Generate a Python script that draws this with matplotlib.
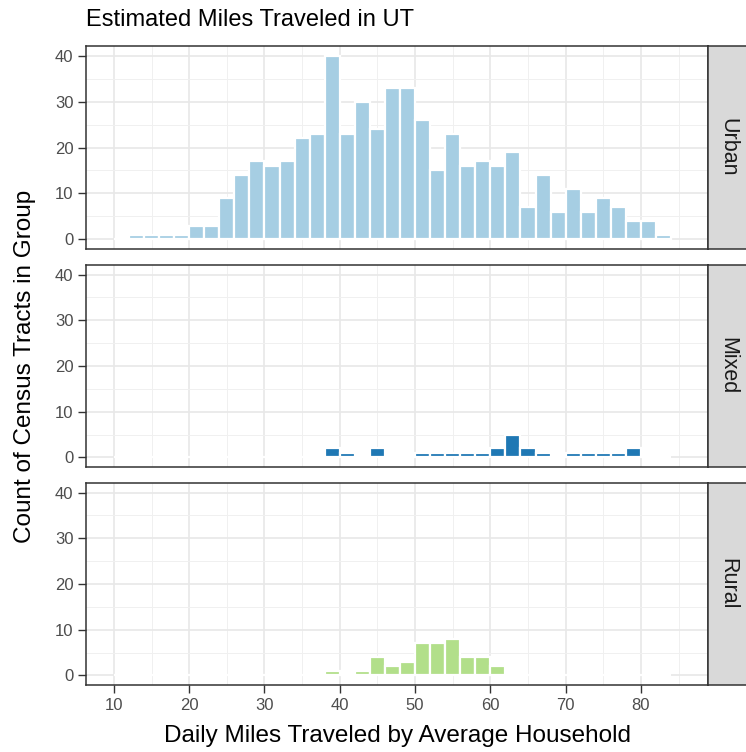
import matplotlib
matplotlib.use("Agg")
import matplotlib.pyplot as plt

plt.rcParams["font.family"] = ["Liberation Sans", "DejaVu Sans"]

# histogram bins, 2 miles wide, from 10 to 84
bin_left = [10, 12, 14, 16, 18, 20, 22, 24, 26, 28, 30, 32, 34, 36, 38, 40, 42, 44, 46,
            48, 50, 52, 54, 56, 58, 60, 62, 64, 66, 68, 70, 72, 74, 76, 78, 80, 82]

urban = [0, 1, 1, 1, 1, 3, 3, 9, 14, 17, 16, 17, 22, 23, 40, 23, 30, 24, 33,
         33, 26, 15, 23, 16, 17, 16, 19, 7, 14, 6, 11, 6, 9, 7, 4, 4, 1]
mixed = [0, 0, 0, 0, 0, 0, 0, 0, 0, 0, 0, 0, 0, 0, 2, 1, 0, 2, 0,
         0, 1, 1, 1, 1, 1, 2, 5, 2, 1, 0, 1, 1, 1, 1, 2, 0, 0]
rural = [0, 0, 0, 0, 0, 0, 0, 0, 0, 0, 0, 0, 0, 0, 1, 0, 1, 4, 2,
         3, 7, 7, 8, 4, 4, 2, 0, 0, 0, 0, 0, 0, 0, 0, 0, 0, 0]

groups = ["Urban", "Mixed", "Rural"]
counts = [urban, mixed, rural]
colors = ["#a6cee3", "#1f78b4", "#b2df8a"]

W, H = 746, 752
fig = plt.figure(figsize=(W / 100, H / 100), dpi=100)

left, right, strip_r = 86, 708, 747
panels = [(46, 249), (265, 467), (483, 685)]   # top, bottom in pixels

for i, (grp, vals, col) in enumerate(zip(groups, counts, colors)):
    top, bot = panels[i]
    ax = fig.add_axes([left / W, 1 - bot / H, (right - left) / W, (bot - top) / H])
    ax.bar(bin_left, vals, width=2, align="edge", color=col,
           edgecolor="white", linewidth=1.6, zorder=2)
    ax.set_xlim(6.3, 88.9)
    ax.set_ylim(-2.1, 42.1)
    ax.set_xticks([10, 20, 30, 40, 50, 60, 70, 80])
    ax.set_xticks([15, 25, 35, 45, 55, 65, 75, 85], minor=True)
    ax.set_yticks([0, 10, 20, 30, 40])
    ax.set_yticks([5, 15, 25, 35], minor=True)
    ax.grid(which="major", color="#e8e8e8", linewidth=1.2, zorder=0)
    ax.grid(which="minor", color="#f0f0f0", linewidth=0.7, zorder=0)
    ax.set_axisbelow(True)
    for s in ax.spines.values():
        s.set_color("#333333")
        s.set_linewidth(1.1)
    ax.tick_params(which="minor", length=0)
    ax.tick_params(axis="y", which="major", length=6, width=1, color="#333333",
                   labelsize=12, labelcolor="#4d4d4d", pad=3)
    if i == 2:
        ax.tick_params(axis="x", which="major", length=6, width=1, color="#333333",
                       labelsize=12, labelcolor="#4d4d4d", pad=3.5)
    else:
        ax.tick_params(axis="x", which="major", length=0, labelbottom=False)

    # facet strip on the right
    sx = fig.add_axes([right / W, 1 - bot / H, (strip_r - right) / W, (bot - top) / H])
    sx.set_facecolor("#d9d9d9")
    sx.set_xticks([])
    sx.set_yticks([])
    for s in sx.spines.values():
        s.set_color("#333333")
        s.set_linewidth(1.1)
    sx.text(0.5, 0.5, grp, rotation=270, ha="center", va="center",
            fontsize=15.5, color="#1a1a1a", transform=sx.transAxes)

fig.text(86 / W, 1 - 20 / H, "Estimated Miles Traveled in UT", ha="left", va="center",
         fontsize=17, color="black")
fig.text(397 / W, 1 - 736 / H, "Daily Miles Traveled by Average Household",
         ha="center", va="center", fontsize=17.5, color="black")
fig.text(25 / W, 1 - 366 / H, "Count of Census Tracts in Group", rotation=90,
         ha="center", va="center", fontsize=17.5, color="black")

fig.savefig("out.png", dpi=100)
